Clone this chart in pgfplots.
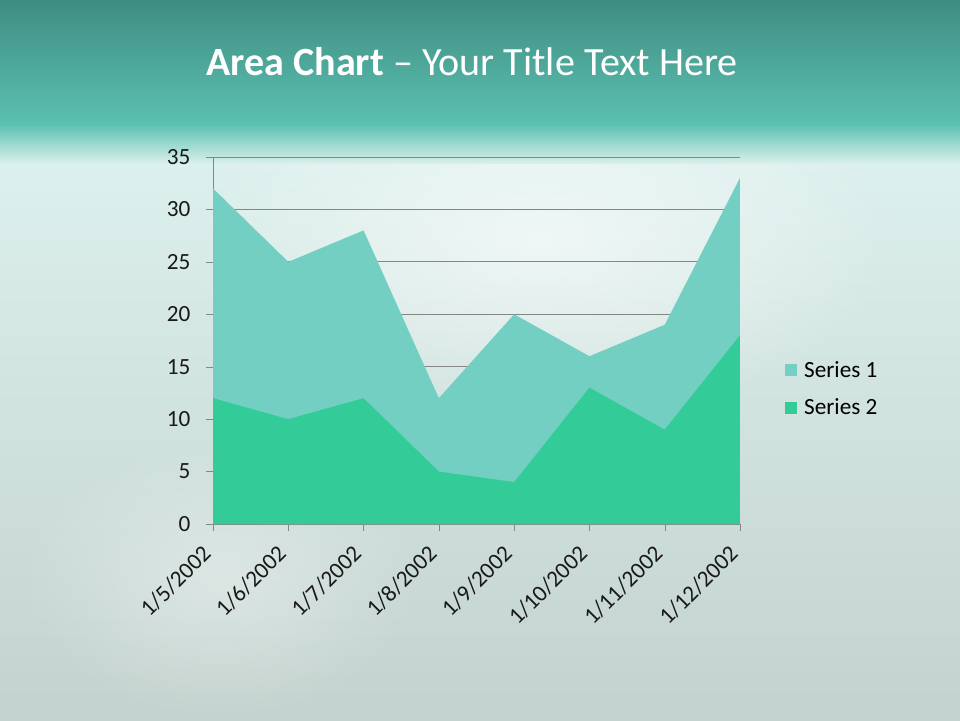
\documentclass[border=0pt]{standalone}
\usepackage{pgfplots}
\pgfplotsset{compat=1.18}
\usetikzlibrary{fadings}
\usepackage{fontspec}
\setmainfont{Carlito}

\definecolor{hdrtop}{HTML}{3F8D82}
\definecolor{hdrbot}{HTML}{5BC1B1}
\definecolor{bgtop}{HTML}{DCF0ED}
\definecolor{bgbot}{HTML}{C3D2CE}
\definecolor{serA}{HTML}{72CFC1}
\definecolor{serB}{HTML}{33CC99}
\definecolor{axgray}{HTML}{868686}

\tikzfading[name=glow, inner color=transparent!0, outer color=transparent!100]

\begin{document}
\begin{tikzpicture}
% slide background, 1px = 0.025cm
\shade[top color=bgtop, bottom color=bgbot] (0,0) rectangle (24,14.0);
\fill[white, opacity=0.6, path fading=glow] (13.5,12.0) ellipse (9 and 4.5);
\fill[white, opacity=0.35, path fading=glow] (5.5,3.5) ellipse (5 and 3.5);
\shade[top color=hdrbot, bottom color=bgtop] (0,13.9) rectangle (24,14.9);
\shade[top color=hdrtop, bottom color=hdrbot] (0,14.875) rectangle (24,18);

\node[text=white, font=\fontsize{28.5}{32}\selectfont] at (11.8,16.45)
  {\textbf{Area Chart} -- Your Title Text Here};

\begin{axis}[
    at={(5.325cm,4.9cm)}, anchor=origin,
    scale only axis,
    width=13.175cm, height=9.175cm,
    xmin=0, xmax=7, ymin=0, ymax=35,
    xtick={0,1,...,7},
    xticklabels={1/5/2002,1/6/2002,1/7/2002,1/8/2002,1/9/2002,1/10/2002,1/11/2002,1/12/2002},
    x tick label style={xshift=-3.5pt, yshift=-12.5pt, rotate=45, anchor=east, inner sep=1pt},
    y tick label style={xshift=-7.5pt},
    ytick={0,5,...,35},
    axis x line*=bottom, axis y line*=left,
    axis line style={axgray, -},
    tick align=outside, major tick length=0.175cm,
    tick style={axgray},
    ymajorgrids, grid style={axgray, line width=0.6pt},
    ticklabel style={font=\fontsize{16.5}{18}\selectfont, text=black!90},
    /pgf/number format/assume math mode=true,
    legend style={at={(1.076,0.368)}, anchor=west, draw=none, fill=none,
      font=\fontsize{16.5}{18}\selectfont, row sep=10pt},
    legend cell align=left,
    legend image code/.code={\fill[#1] (0cm,-0.15cm) rectangle (0.3cm,0.15cm);
      \path (0.42cm,0cm);},
]
\addplot[fill=serA, draw=none] coordinates {
  (0,32) (1,25) (2,28) (3,12) (4,20) (5,16) (6,19) (7,33)} \closedcycle;
\addlegendentry{Series 1}
\addplot[fill=serB, draw=none] coordinates {
  (0,12) (1,10) (2,12) (3,5) (4,4) (5,13) (6,9) (7,18)} \closedcycle;
\addlegendentry{Series 2}
\end{axis}
\end{tikzpicture}
\end{document}
